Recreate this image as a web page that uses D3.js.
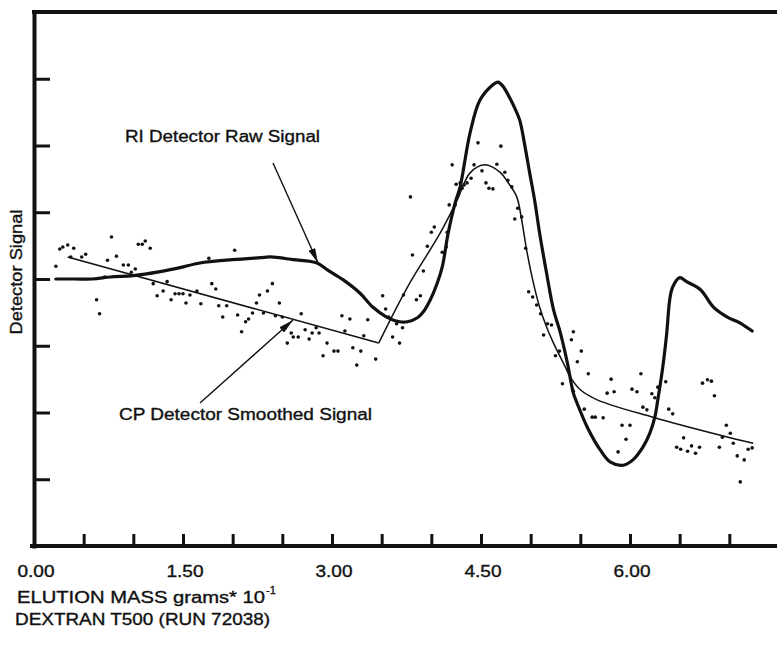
<!DOCTYPE html>
<html>
<head>
<meta charset="utf-8">
<script src="https://cdn.jsdelivr.net/npm/d3@7"></script>
<style>
  body { margin: 0; background: #fff; }
  svg { display: block; font-family: 'Liberation Sans', Arial, sans-serif; }
  .label { font-size: 16px; fill: #111; stroke: #111; stroke-width: 0.35px; }
</style>
</head>
<body>
<svg id="chart" width="777" height="646"></svg>
<script>
// ticks
const xTicks = [0.5, 1, 1.5, 2, 2.5, 3, 3.5, 4, 4.5, 5, 5.5, 6, 6.5, 7]
const xLabels = [0, 1.5, 3, 4.5, 6]
const yTicks = [1, 2, 3, 4, 5, 6, 7]

// RI detector raw signal (thick curve)
const rawX = [0.22,0.41,0.59,0.77,1.00,1.27,1.47,1.67,2.00,2.28,2.38,2.61,2.85,2.95,3.11,3.28,3.41,3.55,3.68,3.76,3.86,3.92,3.99,4.06,4.11,4.17,4.24,4.29,4.39,4.49,4.62,4.67,4.72,4.79,4.84,4.89,4.94,4.99,5.04,5.09,5.16,5.23,5.30,5.37,5.43,5.47,5.57,5.70,5.80,5.93,6.03,6.13,6.20,6.25,6.28,6.33,6.37,6.40,6.43,6.50,6.57,6.71,6.84,6.98,7.11,7.23]
const rawY = [4.00,4.00,4.00,4.03,4.05,4.11,4.17,4.24,4.29,4.32,4.33,4.29,4.24,4.14,3.99,3.79,3.58,3.43,3.36,3.36,3.42,3.51,3.69,3.94,4.18,4.69,5.14,5.38,6.19,6.68,6.91,6.95,6.89,6.71,6.56,6.38,6.01,5.59,5.18,4.69,4.09,3.54,3.19,2.74,2.29,2.13,1.78,1.44,1.26,1.21,1.29,1.48,1.69,1.93,2.19,2.68,3.19,3.69,3.88,4.02,3.96,3.84,3.58,3.43,3.34,3.22]

// CP detector smoothed signal (thin line)
const smoothX = [0.34,3.47,3.76,4.09,4.26,4.39,4.54,4.69,4.77,4.86,4.91,4.96,5.02,5.09,5.16,5.23,5.33,5.40,5.50,5.67,6.23,6.91,7.24]
const smoothY = [4.33,3.04,3.88,4.69,5.18,5.59,5.71,5.60,5.45,5.23,4.88,4.43,3.99,3.58,3.28,3.04,2.74,2.53,2.34,2.19,1.93,1.66,1.54]

// CP detector readings (dots)
const cpPoints = [
  [0.22,4.19],[0.26,4.45],[0.29,4.48],[0.34,4.51],[0.40,4.46],[0.37,4.33],[0.48,4.33],[0.52,4.37],
  [0.78,4.63],[0.74,4.28],[0.83,4.34],[0.90,4.21],[0.95,4.21],[0.98,4.10],[1.02,4.15],[1.05,4.52],
  [1.09,4.52],[1.12,4.57],[1.17,4.46],[0.71,4.03],[0.63,3.69],[0.66,3.48],[1.20,3.93],[1.24,3.75],
  [1.30,3.82],[1.34,3.96],[1.38,3.69],[1.42,3.78],[1.46,3.78],[1.50,3.78],[1.53,3.64],[1.57,3.76],
  [1.64,3.82],[1.68,3.63],[1.76,4.31],[1.79,3.93],[1.83,3.85],[1.86,3.60],[1.94,3.60],[1.90,3.43],
  [2.02,4.43],[2.05,3.46],[2.09,3.21],[2.13,3.36],[2.16,3.40],[2.20,3.49],[2.24,3.64],[2.27,3.76],
  [2.35,3.82],[2.40,3.93],[2.47,3.64],[2.31,3.49],[2.43,3.45],[2.50,3.43],[2.69,3.48],[2.59,3.19],
  [2.61,3.13],[2.66,3.13],[2.55,3.04],[2.73,3.24],[2.80,3.19],[2.84,3.27],[2.87,3.19],[2.77,3.10],
  [2.95,3.04],[2.91,2.85],[3.02,2.92],[3.06,2.92],[3.10,3.45],[3.18,3.40],[3.13,3.22],[3.21,2.97],
  [3.29,2.92],[3.25,2.71],[3.32,3.15],[3.36,3.39],[3.44,2.80],[3.51,3.75],[3.54,3.55],[3.57,3.43],
  [3.61,3.13],[3.68,3.04],[3.71,3.27],[3.65,3.33],[3.72,3.76],[3.81,4.36],[3.85,3.69],[3.89,3.75],
  [3.92,4.12],[3.96,4.49],[4.00,4.70],[4.03,4.78],[4.11,4.40],[4.15,4.48],[4.16,4.70],[4.18,5.11],
  [4.24,5.11],[3.79,5.23],[4.21,5.71],[4.25,5.42],[4.29,5.44],[4.31,5.36],[4.33,5.41],[4.36,5.44],
  [4.40,5.51],[4.43,5.71],[4.47,6.04],[4.51,5.62],[4.55,5.44],[4.58,5.36],[4.62,5.35],[4.66,5.72],
  [4.70,5.99],[4.74,5.60],[4.77,5.48],[4.81,5.38],[4.87,5.06],[4.84,4.90],[4.91,4.93],[4.95,4.46],
  [4.98,3.81],[5.02,3.73],[5.06,3.61],[5.10,3.48],[5.17,3.33],[5.21,3.31],[5.13,3.16],[5.25,2.85],
  [5.29,2.92],[5.41,3.09],[5.43,3.21],[5.47,2.76],[5.51,2.92],[5.58,2.58],[5.32,2.43],[5.43,2.32],
  [5.81,2.50],[5.84,2.31],[5.77,2.29],[6.02,2.35],[6.07,2.31],[6.11,2.58],[6.22,2.28],[6.25,2.22],
  [6.28,2.38],[6.36,2.46],[6.73,2.44],[6.78,2.49],[6.82,2.47],[6.85,2.25],[5.54,2.05],[5.62,1.93],
  [5.65,1.93],[5.73,1.92],[5.88,1.41],[5.92,1.81],[6.00,1.81],[5.96,1.60],[6.13,2.08],[6.17,2.04],
  [6.39,2.05],[6.43,1.98],[6.47,1.48],[6.51,1.45],[6.54,1.62],[6.58,1.42],[6.62,1.50],[6.66,1.39],
  [6.70,1.48],[6.90,1.48],[6.93,1.63],[6.97,1.81],[7.01,1.69],[7.04,1.54],[7.08,1.35],[7.15,1.29],
  [7.11,0.96],[7.19,1.45],[7.23,1.47],
]

const ink = '#111'

const svg = d3.select('#chart')

const x = d3.scaleLinear()
    .domain([0, 7.48])
    .range([34, 777])

const y = d3.scaleLinear()
    .domain([0, 8])
    .range([546, 12])

// arrowhead
svg.append('defs').append('marker')
    .attr('id', 'head')
    .attr('viewBox', '0 0 15 7')
    .attr('refX', 15)
    .attr('refY', 3.5)
    .attr('markerUnits', 'userSpaceOnUse')
    .attr('markerWidth', 15)
    .attr('markerHeight', 7)
    .attr('orient', 'auto')
  .append('path')
    .attr('d', 'M0,0L15,3.5L0,7Z')
    .attr('fill', ink)

// top border
svg.append('line')
    .attr('x1', x(0) - 2)
    .attr('x2', 777)
    .attr('y1', y(8))
    .attr('y2', y(8))
    .attr('stroke', ink)
    .attr('stroke-width', 4)

// axes
const xAxis = svg.append('g')
    .attr('transform', `translate(0,${y(0)})`)
    .call(d3.axisBottom(x)
      .tickValues(xTicks)
      .tickSize(-12)
      .tickSizeOuter(0)
      .tickFormat(''))

const yAxis = svg.append('g')
    .attr('transform', `translate(${x(0)},0)`)
    .call(d3.axisLeft(y)
      .tickValues(yTicks)
      .tickSize(-16)
      .tickSizeOuter(0)
      .tickFormat(''))

svg.selectAll('.domain')
    .attr('stroke', ink)
    .attr('stroke-width', 4)
    .attr('stroke-linecap', 'square')

svg.selectAll('.tick line')
    .attr('stroke', ink)
    .attr('stroke-width', 3)

xAxis.select('.domain')
    .attr('d', `M${x(0) - 2},0H777`)

// x tick labels
svg.append('g').selectAll('text')
    .data(xLabels)
    .join('text')
    .attr('class', 'label')
    .attr('x', d => x(d) + 2)
    .attr('y', 577)
    .attr('text-anchor', 'middle')
    .attr('textLength', 37)
    .attr('lengthAdjust', 'spacingAndGlyphs')
    .text(d => d.toFixed(2))

// axis titles
svg.append('text')
    .attr('class', 'label')
    .attr('x', 17)
    .attr('y', 603)
    .attr('textLength', 248)
    .attr('lengthAdjust', 'spacingAndGlyphs')
    .text('ELUTION MASS grams* 10')

svg.append('text')
    .attr('class', 'label')
    .attr('x', 266)
    .attr('y', 594)
    .style('font-size', '11px')
    .text('-1')

svg.append('text')
    .attr('class', 'label')
    .attr('x', 15)
    .attr('y', 625)
    .attr('textLength', 255)
    .attr('lengthAdjust', 'spacingAndGlyphs')
    .text('DEXTRAN T500 (RUN 72038)')

svg.append('text')
    .attr('class', 'label')
    .attr('transform', 'translate(22,272) rotate(-90)')
    .attr('text-anchor', 'middle')
    .attr('textLength', 125)
    .attr('lengthAdjust', 'spacingAndGlyphs')
    .text('Detector Signal')

// CP readings
svg.append('g').selectAll('circle')
    .data(cpPoints)
    .join('circle')
    .attr('cx', d => x(d[0]))
    .attr('cy', d => y(d[1]))
    .attr('r', 1.8)
    .attr('fill', ink)

// CP smoothed line: straight drift, then the peak
const smooth = smoothX.map((v, i) => [v, smoothY[i]])

const straight = d3.line()
    .x(d => x(d[0]))
    .y(d => y(d[1]))

const curved = d3.line()
    .x(d => x(d[0]))
    .y(d => y(d[1]))
    .curve(d3.curveCatmullRom.alpha(0.5))

svg.append('path')
    .attr('d', straight(smooth.slice(0, 2)))
    .attr('fill', 'none')
    .attr('stroke', ink)
    .attr('stroke-width', 1.5)

svg.append('path')
    .attr('d', curved(smooth.slice(1)))
    .attr('fill', 'none')
    .attr('stroke', ink)
    .attr('stroke-width', 1.5)

// RI raw signal
const raw = rawX.map((v, i) => [v, rawY[i]])

svg.append('path')
    .attr('d', curved(raw))
    .attr('fill', 'none')
    .attr('stroke', ink)
    .attr('stroke-width', 3.2)
    .attr('stroke-linejoin', 'round')
    .attr('stroke-linecap', 'round')

// annotations
svg.append('text')
    .attr('class', 'label')
    .attr('x', 125)
    .attr('y', 142)
    .attr('textLength', 195)
    .attr('lengthAdjust', 'spacingAndGlyphs')
    .text('RI Detector Raw Signal')

svg.append('text')
    .attr('class', 'label')
    .attr('x', 119)
    .attr('y', 420)
    .attr('textLength', 253)
    .attr('lengthAdjust', 'spacingAndGlyphs')
    .text('CP Detector Smoothed Signal')

svg.append('line')
    .attr('x1', 273)
    .attr('y1', 163)
    .attr('x2', 318)
    .attr('y2', 263)
    .attr('stroke', ink)
    .attr('stroke-width', 1.4)
    .attr('marker-end', 'url(#head)')

svg.append('line')
    .attr('x1', 200)
    .attr('y1', 403)
    .attr('x2', 293)
    .attr('y2', 320)
    .attr('stroke', ink)
    .attr('stroke-width', 1.4)
    .attr('marker-end', 'url(#head)')
</script>
</body>
</html>
